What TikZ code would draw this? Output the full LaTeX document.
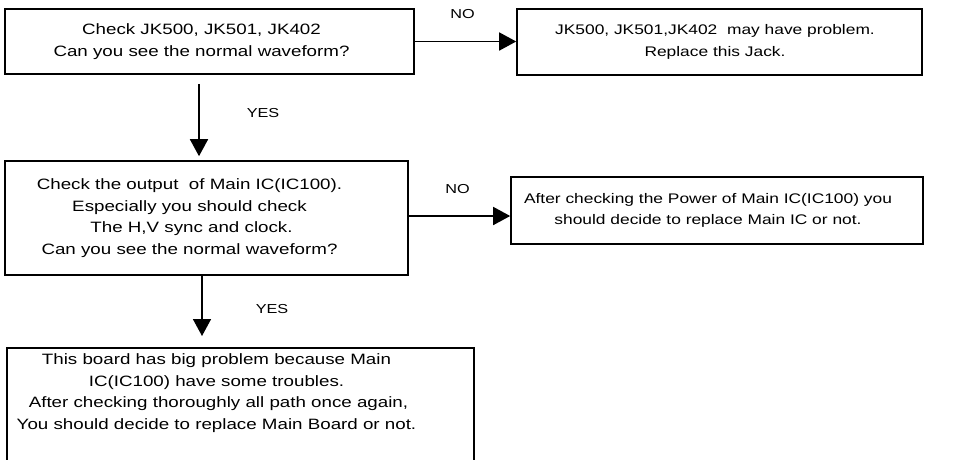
\documentclass[tikz,border=0pt]{standalone}
\usepackage{fontspec}
\setmainfont{Liberation Sans}[FakeStretch=1.25]
\usetikzlibrary{positioning,arrows.meta}
\newcommand{\tleft}[1]{\hspace*{-#1pt}}

\begin{document}
\begin{tikzpicture}[x=1pt, y=-1pt, line width=1.6pt,
  box/.style={draw, rectangle, align=center, inner sep=0pt,
    font=\fontsize{15}{21.5}\selectfont},
  small/.style={font=\fontsize{13.9}{21.5}\selectfont},
  lbl/.style={font=\fontsize{13}{15}\selectfont, inner sep=2pt},
  flow/.style={-{Triangle[length=17pt, width=18pt]}}]

  \useasboundingbox (0,0) rectangle (978,459);

  \node[box, minimum width=409pt, minimum height=65pt] (jack) at (209.5,41.5)
    {\tleft{16}Check JK500, JK501, JK402\\\tleft{16}Can you see the normal waveform?};
  \node[box, small, minimum width=405pt, minimum height=66pt] (swap) at (719.5,42)
    {\tleft{9}JK500, JK501,JK402\ \ may have problem.\\\tleft{9}Replace this Jack.};
  \node[box, minimum width=403pt, minimum height=114pt] (mainic) at (206.5,218)
    {\tleft{34}Check the output\ \ of Main IC(IC100).\\\tleft{34}Especially you should check\\
     \tleft{30}The H,V sync and clock.\\\tleft{34}Can you see the normal waveform?};
  \node[box, small, minimum width=412pt, minimum height=67pt] (power) at (717,210.5)
    {\tleft{18}After checking the Power of Main IC(IC100) you\\\tleft{18}should decide to replace Main IC or not.};
  \node[box, draw=none, minimum width=465pt, inner ysep=5pt, anchor=north] (board) at (240.5,348)
    {\tleft{48}This board has big problem because Main\\\tleft{48}IC(IC100) have some troubles.\\
     \tleft{44}After checking thoroughly all path once again,\\\tleft{48}You should decide to replace Main Board or not.};

  % open box at the bottom
  \draw (board.north west) ++(0,120) -- (board.north west) -- (board.north east) -- ++(0,120);

  \coordinate (down1) at (199,0);
  \coordinate (down2) at (202,0);

  \path[flow]
    (jack.east) edge node[lbl, above=20pt, xshift=-3pt] {NO} (jack.east -| swap.west)
    ([yshift=-9pt]jack.south -| down1) edge node[lbl, right=45pt, yshift=7pt] {YES} ([yshift=4pt]mainic.north -| down1)

    ([yshift=2pt]mainic.east) edge node[lbl, above=20pt, xshift=-2pt] {NO} ([yshift=2pt]mainic.east -| power.west)
    (mainic.south -| down2) edge node[lbl, right=51pt, yshift=-3pt] {YES} ([yshift=12pt]board.north -| down2);
\end{tikzpicture}
\end{document}
